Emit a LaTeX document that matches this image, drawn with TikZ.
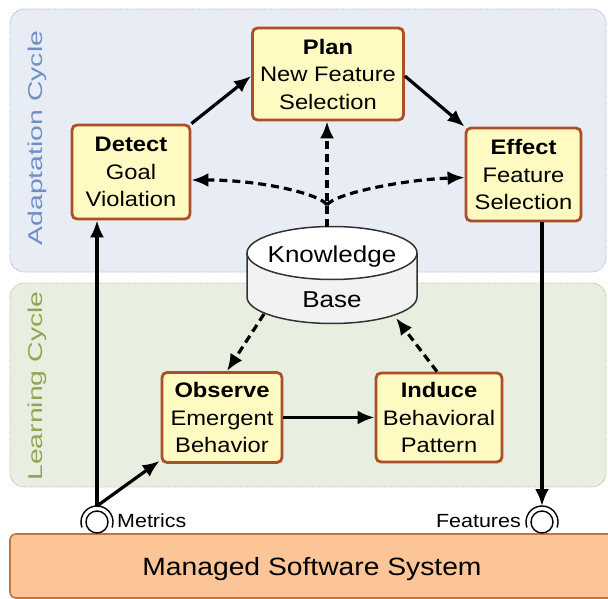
\documentclass[tikz,border=0pt]{standalone}
\usepackage{fontspec}
\setmainfont{Liberation Sans}[FakeStretch=1.13]
\newfontfamily\lblfont{Liberation Sans}[FakeStretch=1.42]
\usetikzlibrary{arrows.meta}
\definecolor{adfill}{HTML}{E8ECF5}
\definecolor{adborder}{HTML}{A5AFC2}
\definecolor{lcfill}{HTML}{E8EFE0}
\definecolor{lcborder}{HTML}{AEB89E}
\definecolor{nodefill}{HTML}{FFF9C2}
\definecolor{nodeborder}{HTML}{AC4E28}
\definecolor{mgfill}{HTML}{FCC597}
\definecolor{mgborder}{HTML}{C5743E}
\definecolor{adtext}{HTML}{7090C4}
\definecolor{lctext}{HTML}{8FA654}
\definecolor{kbborder}{HTML}{333333}
\tikzset{
  panelbox/.style={densely dotted, line width=0.8pt, rounded corners=14pt},
  cyclelabel/.style={rotate=90, inner sep=0pt, font=\lblfont\fontsize{20}{20}\selectfont},
  stepbox/.style={draw=nodeborder, fill=nodefill, line width=2.8pt, rounded corners=5pt,
    align=center, inner sep=0pt, font=\fontsize{21}{27.5}\selectfont},
  arr/.style={line width=3.2pt, -{Latex[length=17pt,width=14pt]}},
  darr/.style={line width=3.2pt, dash pattern=on 8pt off 5pt, -{Latex[length=17pt,width=14pt]}},
  plaintext/.style={inner sep=0pt},
  socket/.style={circle, draw, line width=1.4pt, minimum size=22pt, inner sep=0pt, fill=white},
}
\begin{document}
\begin{tikzpicture}[x=1pt,y=-1pt]
\useasboundingbox (0,0) rectangle (608,599);
\clip (0,0) rectangle (608,599);
\fill[white] (0,0) rectangle (608,599);

% panels
\draw[panelbox, draw=adborder, fill=adfill] (10,9) rectangle (606,272);
\draw[panelbox, draw=lcborder, fill=lcfill] (10,283) rectangle (606,487);
\node[cyclelabel, text=adtext] (adlbl) at (37,138) {Adaptation Cycle};
\node[cyclelabel, text=lctext] (lclbl) at (37,386) {Learning Cycle};

% managed system
\node[draw=mgborder, fill=mgfill, line width=1.6pt, rounded corners=6pt,
      minimum width=604pt, minimum height=64pt, inner sep=0pt] (mss) at (312,566) {};
\node[plaintext, anchor=base, font=\fontsize{25}{25}\selectfont] (msstext) at (312,575) {Managed Software System};

% step nodes
\node[stepbox, minimum width=118pt, minimum height=94pt] (detect) at (131,172)
  {\textbf{Detect}\\Goal\\Violation};
\node[stepbox, minimum width=151pt, minimum height=92pt] (plan) at (328,74)
  {\textbf{Plan}\\New Feature\\Selection};
\node[stepbox, minimum width=115pt, minimum height=93pt] (effect) at (523.5,174.5)
  {\textbf{Effect}\\Feature\\Selection};
\node[stepbox, minimum width=120pt, minimum height=90pt] (observe) at (222,417.5)
  {\textbf{Observe}\\Emergent\\Behavior};
\node[stepbox, minimum width=126pt, minimum height=89pt] (induce) at (439,417.5)
  {\textbf{Induce}\\Behavioral\\Pattern};

% knowledge base cylinder
\fill[gray!10] (247,253) -- (247,297) arc[start angle=180, end angle=360, x radius=85pt, y radius=26.5pt] -- (417,253) -- cycle;
\draw[kbborder, line width=1.5pt] (247,253) -- (247,297) arc[start angle=180, end angle=360, x radius=85pt, y radius=26.5pt] -- (417,253);
\draw[kbborder, line width=1.5pt, fill=white] (332,253) ellipse[x radius=85pt, y radius=26.5pt];
\node[minimum width=170pt, minimum height=96pt, inner sep=0pt] (kb) at (332,275) {};
\node[plaintext, anchor=base, font=\fontsize{23}{23}\selectfont] (kbt1) at (332,262) {Knowledge};
\node[plaintext, anchor=base, font=\fontsize{23}{23}\selectfont] (kbt2) at (332,307) {Base};
\coordinate (kbtop) at (327,227);
\coordinate (kbbl) at (264,314);
\coordinate (kbbr) at (396,318);
\coordinate (br) at (327,205);

% sockets
\node[socket] (msock) at (97,522) {};
\draw[line width=1.4pt] (msock.center) ++(200:16pt) arc[start angle=200, end angle=-20, radius=16pt];
\coordinate (mtop) at ([yshift=16pt]msock.center);
\node[socket] (fsock) at (542,522) {};
\draw[line width=1.4pt] (fsock.center) ++(200:16pt) arc[start angle=200, end angle=-20, radius=16pt];
\coordinate (ftop) at ([yshift=16pt]fsock.center);
\node[plaintext, anchor=base west, font=\fontsize{19}{19}\selectfont] (mlbl) at (117,527) {Metrics};
\node[plaintext, anchor=base east, font=\fontsize{19}{19}\selectfont] (flbl) at (521,527) {Features};

% solid connectors
\draw[arr] (detect.north east) -- ([yshift=-2pt]plan.west);
\draw[arr] ([yshift=-2pt]plan.east) -- (effect.north west);
\draw[arr] (observe.east) -- (induce.west);
\draw[arr] (mtop) -- (mtop |- detect.south);
\draw[arr] (mtop) -- ([xshift=-1pt,yshift=3pt]observe.south west);
\draw[arr] (ftop |- effect.south) -- (ftop);

% dashed connectors
\draw[darr] (kbtop) -- (kbtop |- plan.south);
\draw[darr] (br) .. controls (320,194) and (262,180) .. ([yshift=-8pt]detect.east);
\draw[darr] (br) .. controls (334,194) and (400,180) .. ([yshift=-3pt]effect.west);
\draw[darr] (kbbl) -- ([xshift=5pt]observe.north);
\draw[darr] ([xshift=-2pt]induce.north) -- (kbbr);
\end{tikzpicture}
\end{document}
